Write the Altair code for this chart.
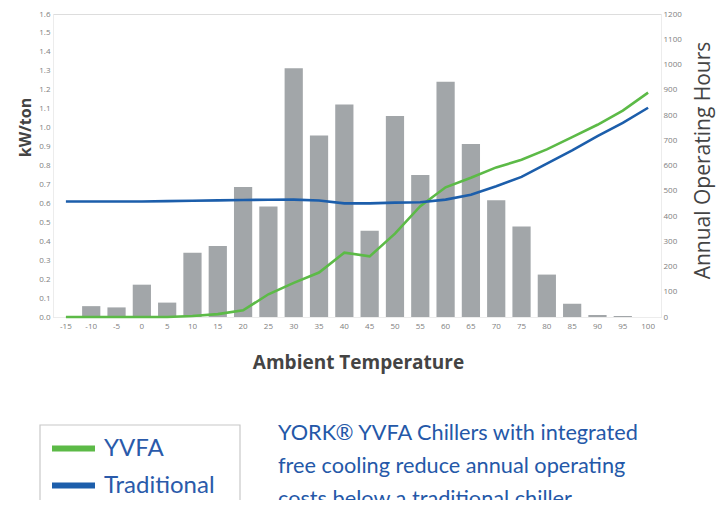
import altair as alt
import pandas as pd

temps = [-15, -10, -5, 0, 5, 10, 15, 20, 25, 30, 35, 40, 45, 50, 55, 60, 65, 70, 75, 80, 85, 90, 95, 100]
hours = [0, 43, 38, 128, 57, 254, 281, 515, 438, 985, 719, 842, 342, 796, 562, 932, 685, 462, 358, 168, 52, 8, 4, 0]
yvfa = [0.0, 0.0, 0.0, 0.0, 0.0, 0.005, 0.015, 0.035, 0.12, 0.18, 0.235, 0.34, 0.32, 0.44, 0.585,
        0.685, 0.735, 0.79, 0.83, 0.885, 0.95, 1.015, 1.09, 1.185]
traditional = [0.61, 0.61, 0.61, 0.61, 0.612, 0.614, 0.616, 0.618, 0.619, 0.62, 0.615, 0.60, 0.60, 0.604,
               0.606, 0.62, 0.645, 0.69, 0.74, 0.81, 0.88, 0.955, 1.025, 1.105]
series = ["YVFA", "Traditional"]
colors = ["#5cba47", "#1c5eab"]
kw_ticks = [round(i * 0.1, 1) for i in range(17)]
hour_ticks = list(range(0, 1300, 100))
annotation = ["YORK® YVFA Chillers with integrated",
              "free cooling reduce annual operating",
              "costs below a traditional chiller."]

bars_df = pd.DataFrame({"temp": temps, "hours": hours})
lines_df = pd.DataFrame({
    "temp": temps * 2,
    "kw": yvfa + traditional,
    "series": [series[0]] * len(temps) + [series[1]] * len(temps),
})

x_enc = alt.X("temp:O", sort=temps,
              scale=alt.Scale(paddingInner=0.28, paddingOuter=0.15),
              axis=alt.Axis(title="Ambient Temperature", labelAngle=0, labelFontSize=8,
                            labelColor="#808080", labelPadding=5, ticks=False,
                            domainColor="#ececec", titleFontSize=19, titleFontWeight="bold",
                            titleColor="#444", titleX=305, titleY=45, titleBaseline="middle"))

bars = alt.Chart(bars_df).mark_bar(color="#a2a6a9").encode(
    x=x_enc,
    y=alt.Y("hours:Q", scale=alt.Scale(domain=[0, 1200], nice=False),
            axis=alt.Axis(orient="right", values=hour_ticks, format="d",
                          title="Annual Operating Hours",
                          labelFontSize=8, labelColor="#808080", labelPadding=2, ticks=False,
                          grid=False, domainColor="#ececec", titleFontSize=21,
                          titleFontWeight="normal", titleColor="#444", titleAngle=270,
                          titleX=42, titleY=146, titleBaseline="middle")),
)

lines = alt.Chart(lines_df).mark_line(strokeWidth=2.6).encode(
    x=alt.X("temp:O", sort=temps),
    y=alt.Y("kw:Q", scale=alt.Scale(domain=[0, 1.6], nice=False),
            axis=alt.Axis(orient="left", values=kw_ticks, format=".1f", title="kW/ton",
                          labelFontSize=8, labelColor="#808080", labelPadding=3, ticks=False,
                          grid=False, domainColor="#ececec", titleFontSize=16,
                          titleFontWeight="bold", titleColor="#444",
                          titleX=-28, titleY=113, titleBaseline="middle")),
    color=alt.Color("series:N", scale=alt.Scale(domain=series, range=colors),
                    legend=alt.Legend(title=None, orient="none", legendX=-13, legendY=408,
                                      symbolType="stroke", symbolSize=1849,
                                      symbolStrokeWidth=6, labelFontSize=24,
                                      labelColor="#2a5aaa", labelFont="Lato",
                                      symbolOffset=7, labelOffset=6,
                                      rowPadding=-8, padding=2)),
    order=alt.Order("temp:Q"),
)

legend_box = alt.Chart(pd.DataFrame({"b": [0]})).mark_rect(
    fill=None, stroke="#c8c8c8", strokeWidth=1.2,
).encode(x=alt.value(-13), x2=alt.value(187), y=alt.value(411), y2=alt.value(492))

note = alt.Chart(pd.DataFrame({"t": ["\n".join(annotation)]})).mark_text(
    align="left", baseline="top", fontSize=21.7, font="Lato", color="#2458a8",
    lineBreak="\n", lineHeight=33,
).encode(text="t:N", x=alt.value(225), y=alt.value(409))

chart = alt.layer(bars, lines, legend_box, note).resolve_scale(y="independent").properties(
    width=608, height=303,
    autosize=alt.AutoSizeParams(type="none"),
    padding={"left": 45, "top": 6, "right": 55, "bottom": 183},
).configure_view(stroke=None).configure(font="Open Sans")

chart.save("out.html", embed_options={"renderer": "svg", "actions": False})
